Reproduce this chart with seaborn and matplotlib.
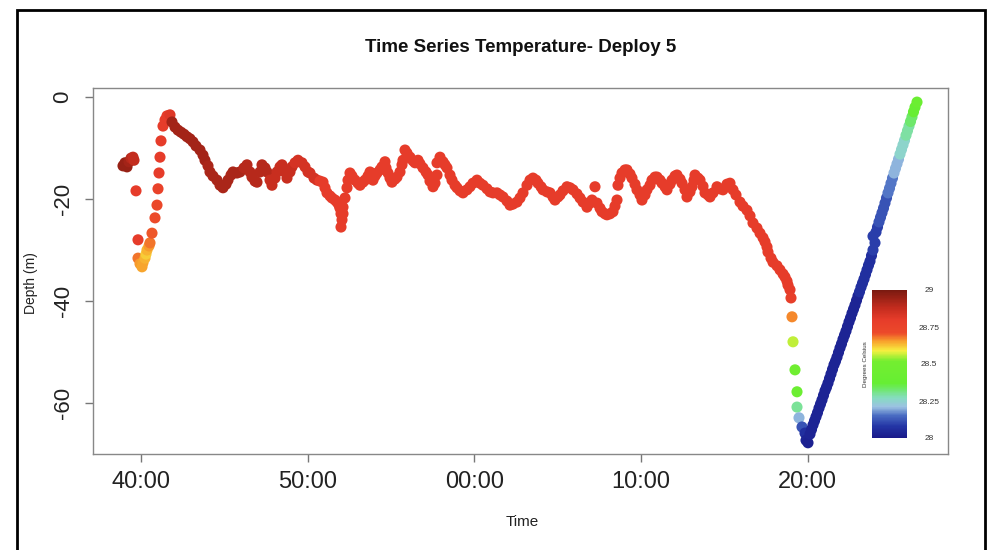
import numpy as np
import pandas as pd
import matplotlib
matplotlib.use("Agg")
import matplotlib.pyplot as plt
from matplotlib.colors import LinearSegmentedColormap, Normalize
from matplotlib.cm import ScalarMappable
from matplotlib.patches import Rectangle
import seaborn as sns

# ---------------- data ----------------
# time in minutes after the "40:00" mark, depth in metres, temperature in deg C

# start cluster
start_time = [-1.08, -0.96, -0.84, -0.72, -0.60, -0.48, -0.42]
start_depth = [-13.5, -12.9, -13.7, -12.7, -12.0, -11.8, -12.4]
start_temp = [28.95, 28.95, 28.95, 28.93, 28.90, 28.88, 28.88]

# drop and climb back to the surface
climb_time = [-0.30, -0.18, -0.18, -0.06, 0.06, 0.12, 0.24, 0.30, 0.36, 0.48, 0.54, 0.66,
              0.84, 0.96, 1.02, 1.08, 1.14, 1.20, 1.32, 1.44, 1.56, 1.74]
climb_depth = [-18.4, -28.0, -31.6, -32.7, -33.3, -32.5, -31.6, -30.8, -30.0, -29.2, -28.6, -26.7,
               -23.7, -21.2, -18.0, -14.9, -11.8, -8.6, -5.7, -4.5, -3.7, -3.5]
climb_temp = [28.80, 28.80, 28.68, 28.66, 28.65, 28.65, 28.64, 28.62, 28.64, 28.66, 28.68, 28.70,
              28.71, 28.72, 28.76, 28.80, 28.80, 28.80, 28.80, 28.80, 28.80, 28.82]

# long wiggly section
wiggle_time = [
    1.86, 2.04, 2.22, 2.40, 2.58, 2.76, 2.94, 3.12, 3.30, 3.54, 3.72, 3.84, 4.02,
    4.14, 4.32, 4.56, 4.74, 4.92, 5.10, 5.22, 5.40, 5.52, 5.76, 5.94, 6.18, 6.36,
    6.54, 6.66, 6.84, 6.96, 7.14, 7.26, 7.44, 7.56, 7.74, 7.86, 8.04, 8.16, 8.34,
    8.46, 8.64, 8.76, 8.94, 9.06, 9.24, 9.42, 9.66, 9.84, 10.02, 10.14, 10.38,
    10.56, 10.74, 10.92, 11.04, 11.16, 11.34, 11.46, 11.64, 11.76, 11.88, 11.94,
    12.00, 12.06, 12.00, 12.12, 12.12, 12.24, 12.36, 12.42, 12.54, 12.66, 12.84,
    13.02, 13.14, 13.32, 13.44, 13.62, 13.74, 13.92, 14.04, 14.16, 14.34, 14.46,
    14.64, 14.70, 14.82, 14.94, 15.06, 15.24, 15.36, 15.54, 15.66, 15.72, 15.84,
    15.96, 16.14, 16.32, 16.44, 16.62, 16.74, 16.92, 17.10, 17.22, 17.34, 17.52,
    17.64, 17.76, 17.76, 17.94, 18.12, 18.24, 18.36, 18.54, 18.66, 18.84, 18.96,
    19.14, 19.32, 19.56, 19.74, 19.92, 20.16, 20.34, 20.52, 20.76, 20.94, 21.12,
    21.36, 21.54, 21.72, 21.96, 22.14, 22.32, 22.56, 22.74, 22.92, 23.16, 23.34,
    23.52, 23.70, 23.82, 24.00, 24.12, 24.36, 24.54, 24.72, 24.84, 25.02, 25.14,
    25.32, 25.56, 25.74, 25.92, 26.16, 26.34, 26.52, 26.76, 26.94, 27.06, 27.24,
    27.36, 27.54, 27.66, 27.84, 27.96, 28.14, 28.32, 28.44, 28.56, 28.62, 28.74,
    28.86, 29.04, 29.16, 29.34, 29.46, 29.64, 29.76, 29.94, 30.06, 30.24, 30.36,
    30.54, 30.66, 30.84, 30.96, 31.14, 31.26, 31.44, 31.56, 31.74, 31.86, 32.04,
    32.16, 32.34, 32.46, 32.64, 32.76, 32.94, 33.06, 33.18, 33.24, 33.42, 33.54,
    33.72, 33.84, 34.02, 34.14, 34.32, 34.56, 34.74, 34.92, 35.16, 35.34, 35.52,
    35.70, 35.94, 36.12, 36.36, 36.54, 36.72, 36.96, 37.14, 37.32, 37.44, 37.56,
    37.62, 37.80, 37.92, 38.16, 38.34, 38.52, 38.64, 38.76, 38.82, 38.94,
]
wiggle_depth = [
    -4.9, -5.9, -6.5, -6.9, -7.3, -7.8, -8.2, -8.8, -9.6, -10.4, -11.4, -12.4, -13.5,
    -14.7, -15.5, -16.3, -17.3, -17.8, -17.1, -16.3, -15.3, -14.7, -14.9, -14.7, -13.9, -13.3,
    -14.7, -15.7, -16.5, -16.7, -14.7, -13.3, -13.9, -14.7, -16.3, -17.3, -15.9, -14.7, -13.7,
    -13.3, -14.7, -15.9, -14.7, -13.7, -12.9, -12.4, -12.9, -13.7, -14.7, -14.9, -15.9,
    -16.3, -16.5, -16.7, -17.8, -18.8, -19.4, -19.8, -20.2, -20.6, -21.2, -21.8,
    -22.9, -24.1, -25.5, -22.9, -21.6, -19.8, -17.8, -16.3, -14.9, -15.5, -16.3,
    -16.9, -17.3, -16.7, -16.3, -15.5, -14.7, -16.3, -15.5, -14.9, -14.3, -13.7,
    -12.7, -13.9, -14.9, -15.9, -16.7, -16.1, -15.7, -14.7, -13.3, -12.4, -10.4,
    -11.0, -11.8, -12.5, -12.9, -12.4, -13.1, -13.9, -14.7, -15.3, -16.5, -17.6,
    -16.9, -15.3, -12.9, -11.8, -12.7, -13.3, -13.9, -15.3, -16.3, -17.3, -17.8,
    -18.4, -18.8, -18.2, -17.6, -16.9, -16.3, -16.9, -17.3, -18.0, -18.6, -18.8,
    -18.8, -19.2, -19.6, -20.4, -21.2, -21.0, -20.6, -19.8, -18.8, -17.3, -16.3,
    -15.9, -16.3, -16.9, -17.6, -18.2, -18.6, -18.8, -19.6, -20.2, -19.6, -19.2,
    -18.4, -17.6, -17.8, -18.2, -19.0, -19.8, -20.6, -21.6, -20.8, -20.2, -17.6,
    -20.8, -21.8, -22.5, -22.9, -23.1, -22.9, -22.5, -21.4, -20.2, -17.3, -15.9,
    -14.9, -14.3, -14.3, -15.1, -15.9, -17.1, -18.2, -19.2, -20.2, -19.2, -18.2,
    -17.3, -16.3, -15.7, -15.7, -16.3, -16.9, -17.6, -18.2, -17.1, -16.3, -15.5,
    -15.3, -16.1, -16.9, -18.2, -19.6, -18.6, -17.6, -16.3, -15.3, -15.9, -16.3,
    -17.5, -18.8, -19.2, -19.6, -18.8, -17.6, -18.0, -18.2, -17.1, -16.9, -18.2,
    -19.2, -20.6, -21.4, -22.2, -23.3, -24.7, -25.7, -26.7, -27.6, -28.4, -29.4,
    -30.4, -31.6, -32.4, -33.1, -33.9, -34.7, -35.3, -36.1, -36.9, -37.8,
]
# dark red at first, red for the rest of the section
wiggle_temp_head = [28.93] * 12 + [28.92] * 12 + [28.90] * 10 + [28.87] * 10 + [28.84] * 8
wiggle_temp_body = 28.80

# fast descent to the bottom
descent_time = [39.00, 39.06, 39.12, 39.24, 39.36, 39.36, 39.48, 39.66, 39.84, 39.90, 40.02]
descent_depth = [-39.4, -43.1, -48.0, -53.5, -57.8, -60.8, -62.9, -64.7, -65.9, -67.3, -67.8]
descent_temp = [28.78, 28.67, 28.56, 28.48, 28.44, 28.30, 28.20, 28.12, 28.06, 28.03, 28.02]

# steady ascent to the surface
ascent_time = [40.14, 40.23, 40.32, 40.41, 40.50, 40.59, 40.68, 40.77, 40.86, 40.95, 41.04,
               41.13, 41.22, 41.31, 41.40, 41.49, 41.58, 41.67, 41.76, 41.85, 41.94, 42.03,
               42.12, 42.21, 42.30, 42.39, 42.48, 42.57, 42.66, 42.75, 42.84, 42.93, 43.02,
               43.11, 43.20, 43.29, 43.38, 43.47, 43.56, 43.65, 43.74, 43.83, 43.92, 44.04,
               43.92, 44.10, 44.19, 44.28, 44.37, 44.46, 44.55, 44.64, 44.73, 44.82, 44.91,
               45.00, 45.09, 45.18, 45.27, 45.36, 45.45, 45.54, 45.63, 45.72, 45.81, 45.90,
               45.99, 46.08, 46.17, 46.26, 46.35, 46.44, 46.56]
ascent_depth = [-66.1, -65.2, -64.3, -63.5, -62.7, -61.9, -61.0, -60.2, -59.4, -58.5, -57.6,
                -56.9, -56.1, -55.2, -54.3, -53.4, -52.5, -51.8, -51.0, -50.1, -49.2, -48.4,
                -47.5, -46.7, -45.9, -45.0, -44.1, -43.3, -42.4, -41.6, -40.8, -39.9, -39.0,
                -38.2, -37.3, -36.5, -35.7, -34.8, -33.9, -33.0, -32.2, -31.1, -30.0, -28.6,
                -27.3, -26.5, -25.5, -24.5, -23.6, -22.7, -21.8, -20.8, -19.8, -18.8, -17.9,
                -16.9, -15.9, -14.9, -14.0, -13.1, -12.2, -11.2, -10.3, -9.4, -8.5, -7.5,
                -6.6, -5.7, -4.8, -3.9, -2.9, -2.0, -1.0]
ascent_temp = ([28.03] * 33 + [28.06] * 9 + [28.09] * 5 + [28.12] * 6 + [28.16] * 4
               + [28.20] * 4 + [28.25] * 4 + [28.29] * 3 + [28.33] * 2 + [28.38] * 2
               + [28.42] * 2 + [28.45] * 1)

x_tick_pos = [0, 10, 20, 30, 40]
x_tick_labels = ["40:00", "50:00", "00:00", "10:00", "20:00"]
y_tick_pos = [0, -20, -40, -60]
y_tick_labels = ["0", "-20", "-40", "-60"]
cbar_ticks = [28.0, 28.25, 28.5, 28.75, 29.0]
cbar_tick_labels = ["28", "28.25", "28.5", "28.75", "29"]

# ---------------- assemble ----------------
def seg(t, d, temps):
    n = min(len(t), len(d))
    temps = list(temps)[:n]
    temps += [temps[-1]] * (n - len(temps))
    return pd.DataFrame({"time": t[:n], "depth": d[:n], "temp": temps})

wiggle_temp = wiggle_temp_head + [wiggle_temp_body] * max(0, len(wiggle_time) - len(wiggle_temp_head))
df = pd.concat([
    seg(start_time, start_depth, start_temp),
    seg(climb_time, climb_depth, climb_temp),
    seg(wiggle_time, wiggle_depth, wiggle_temp),
    seg(descent_time, descent_depth, descent_temp),
    seg(ascent_time, ascent_depth, ascent_temp),
], ignore_index=True)

# ---------------- styling ----------------
sns.set_style("white")
plt.rcParams["font.family"] = ["Liberation Sans", "DejaVu Sans"]

cmap = LinearSegmentedColormap.from_list(
    "temp",
    [
        (0.00, "#1a1a8a"),
        (0.08, "#2436a6"),
        (0.15, "#4a6cc2"),
        (0.21, "#9cc2e2"),
        (0.27, "#86dcc0"),
        (0.33, "#6ee86a"),
        (0.37, "#66ee33"),
        (0.52, "#74ee30"),
        (0.59, "#f6f040"),
        (0.655, "#f8a02c"),
        (0.71, "#ec4a2a"),
        (0.80, "#e63c2a"),
        (0.88, "#c42c1e"),
        (1.00, "#7a1a10"),
    ],
)
norm = Normalize(28.0, 29.0)

W, H = 995, 550
fig = plt.figure(figsize=(W / 100, H / 100), dpi=100)
ax = fig.add_axes([93 / W, 1 - 454 / H, (948 - 93) / W, (454 - 88) / H])

sns.scatterplot(
    data=df, x="time", y="depth", hue="temp", palette=cmap, hue_norm=(28.0, 29.0),
    s=64, linewidth=0, legend=False, ax=ax,
)

ax.set_xlim((93 - 141) * 0.06, (948 - 141) * 0.06)
ax.set_ylim(-(454 - 97) / 5.1, (97 - 88) / 5.1)
ax.set_xticks(x_tick_pos)
ax.set_xticklabels(x_tick_labels)
ax.set_yticks(y_tick_pos)
ax.set_yticklabels(y_tick_labels, rotation=90, va="center")
ax.tick_params(axis="x", labelsize=17, length=6, width=1, color="#777777",
               pad=6, labelcolor="#222222", direction="out", bottom=True)
ax.tick_params(axis="y", labelsize=16, length=6, width=1, color="#777777",
               pad=8, labelcolor="#222222", direction="out", left=True)
for sp in ax.spines.values():
    sp.set_color("#888888")
    sp.set_linewidth(1.0)
ax.set_xlabel("")
ax.set_ylabel("")

fig.text(521 / W, 1 - 47 / H, "Time Series Temperature- Deploy 5", ha="center",
         va="center", fontsize=13.5, fontweight="bold", color="#111111")
fig.text(522 / W, 1 - 522 / H, "Time", ha="center", va="center",
         fontsize=11, color="#222222")
fig.text(31 / W, 1 - 283 / H, "Depth (m)", ha="center", va="center",
         rotation=90, fontsize=10, color="#222222")

# colour bar inside the plot area
cax = fig.add_axes([872 / W, 1 - 438 / H, 35 / W, 148 / H])
sm = ScalarMappable(norm=norm, cmap=cmap)
cb = fig.colorbar(sm, cax=cax, ticks=cbar_ticks)
cb.outline.set_visible(False)
cb.ax.set_yticklabels(cbar_tick_labels)
for t in cb.ax.get_yticklabels():
    t.set_horizontalalignment("center")
cb.ax.tick_params(length=0, labelsize=6, labelcolor="#333333", pad=16)
cb.set_label("Degrees Celsius", fontsize=4.5, color="#333333", labelpad=3)
cb.ax.yaxis.set_label_position("left")

# outer black frame of the screenshot
fig.add_artist(Rectangle((17 / W, -0.05), (985 - 17) / W, 1.05 - 10 / H,
                         transform=fig.transFigure, fill=False,
                         edgecolor="black", linewidth=2.0))

fig.savefig("out.png", dpi=100)
